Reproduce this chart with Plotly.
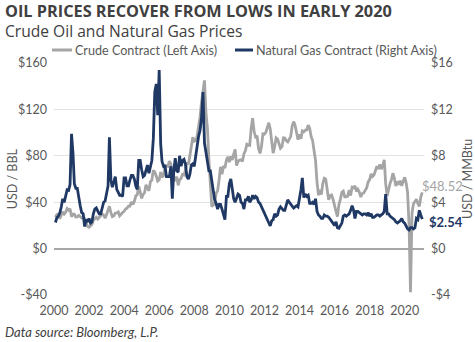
import pandas as pd
import plotly.graph_objects as go

# Month-end observations, Jan 2000 - Dec 2020
dates = pd.date_range("2000-01-31", "2020-12-31", freq="ME")

# WTI crude front-month contract, USD per barrel
crude = [
    27.2, 29.4, 29.9, 25.7, 28.8, 31.8, 29.7, 31.3, 34.5, 33.1, 34.4, 27.4,   # 2000
    29.6, 29.6, 27.2, 27.4, 28.6, 27.6, 26.4, 27.4, 26.2, 22.2, 19.0, 18.4,   # 2001
    19.7, 20.7, 24.5, 26.2, 27.0, 25.5, 26.9, 28.4, 29.7, 28.9, 26.3, 29.4,   # 2002
    33.5, 36.5, 31.0, 27.5, 28.1, 30.7, 30.8, 31.6, 28.3, 30.3, 31.1, 32.1,   # 2003
    34.3, 34.7, 36.7, 36.7, 40.3, 38.0, 40.7, 45.5, 46.5, 54.0, 48.5, 43.3,   # 2004
    46.8, 48.0, 55.0, 52.0, 49.8, 57.5, 59.0, 67.5, 66.0, 62.4, 58.3, 59.4,   # 2005
    66.0, 61.6, 62.9, 71.0, 71.5, 70.9, 75.5, 73.0, 63.8, 58.9, 59.1, 62.0,   # 2006
    54.5, 59.3, 60.4, 63.9, 63.5, 67.5, 74.1, 72.4, 79.9, 87.0, 96.0, 92.5,   # 2007
    93.0, 97.0, 105.5, 113.5, 126.5, 138.0, 145.0, 116.7, 104.1, 76.6, 55.0, 36.0,  # 2008
    38.5, 37.5, 47.9, 49.6, 59.0, 70.5, 64.2, 71.1, 69.4, 76.5, 79.0, 74.5,   # 2009
    79.5, 76.4, 81.2, 85.5, 71.5, 75.3, 76.3, 76.6, 75.2, 81.9, 84.3, 90.0,   # 2010
    89.2, 89.0, 104.0, 112.5, 100.9, 96.3, 97.3, 86.3, 82.0, 88.0, 99.0, 98.6,  # 2011
    100.3, 104.0, 108.5, 103.3, 94.7, 82.3, 87.9, 95.5, 94.5, 89.5, 86.5, 87.9,  # 2012
    95.5, 95.3, 92.9, 92.0, 94.5, 96.5, 105.5, 109.5, 106.3, 100.5, 93.9, 98.5,  # 2013
    94.6, 101.5, 100.8, 102.1, 102.2, 106.5, 103.6, 96.5, 93.2, 84.4, 75.8, 57.0,  # 2014
    46.0, 50.6, 46.5, 56.0, 60.5, 59.8, 50.9, 42.0, 45.5, 46.2, 42.4, 36.0,   # 2015
    32.0, 27.5, 38.0, 42.5, 48.5, 49.5, 44.7, 44.7, 45.2, 50.5, 45.7, 53.0,   # 2016
    52.5, 54.0, 49.3, 51.1, 48.5, 44.5, 47.5, 48.0, 50.5, 52.5, 57.5, 59.5,   # 2017
    64.5, 62.2, 63.5, 67.5, 71.0, 68.5, 72.5, 68.5, 71.5, 76.5, 56.0, 45.5,   # 2018
    52.0, 56.0, 59.5, 65.0, 60.5, 54.0, 58.0, 55.0, 58.5, 54.0, 58.0, 61.5,   # 2019
    56.5, 48.5, 20.5, -37.6, 30.5, 38.5, 40.7, 42.5, 39.0, 36.5, 44.5, 48.52, # 2020
]

# Henry Hub natural gas front-month contract, USD per MMBtu
gas = [
    2.25, 2.66, 2.79, 3.04, 3.59, 4.29, 3.99, 4.43, 5.06, 5.02, 5.52, 9.90,   # 2000
    8.20, 5.60, 5.20, 5.20, 4.20, 3.70, 3.10, 3.00, 1.90, 2.50, 2.30, 2.60,   # 2001
    2.20, 2.30, 3.00, 3.40, 3.50, 3.20, 3.00, 3.00, 3.60, 4.00, 4.10, 4.70,   # 2002
    5.40, 9.60, 5.90, 5.30, 5.90, 6.20, 5.10, 4.90, 4.60, 4.60, 4.50, 6.10,   # 2003
    6.10, 5.40, 5.40, 5.90, 6.30, 6.30, 6.00, 5.40, 5.10, 7.60, 7.60, 6.80,   # 2004
    6.20, 6.30, 6.90, 7.20, 6.50, 7.20, 7.60, 9.50, 13.50, 14.20, 11.50, 15.40,  # 2005
    9.00, 7.50, 7.10, 7.20, 6.20, 6.20, 6.20, 7.10, 4.30, 6.70, 7.80, 6.70,   # 2006
    6.60, 8.00, 7.10, 7.60, 7.70, 7.30, 6.20, 6.00, 6.40, 7.20, 7.30, 7.10,   # 2007
    8.00, 8.90, 9.70, 10.20, 11.30, 13.50, 9.10, 8.30, 7.40, 6.70, 6.70, 5.80,  # 2008
    4.60, 4.20, 3.90, 3.40, 3.80, 3.80, 3.40, 2.80, 2.50, 4.50, 4.50, 5.60,   # 2009
    6.00, 5.20, 4.30, 4.00, 4.30, 4.70, 4.60, 4.00, 3.90, 3.40, 4.20, 4.20,   # 2010
    4.50, 4.00, 4.20, 4.60, 4.30, 4.50, 4.40, 4.00, 3.90, 3.60, 3.30, 3.00,   # 2011
    2.70, 2.50, 2.20, 1.95, 2.40, 2.50, 3.00, 2.80, 2.90, 3.40, 3.60, 3.40,   # 2012
    3.30, 3.30, 3.80, 4.20, 4.00, 3.80, 3.60, 3.50, 3.60, 3.70, 3.60, 4.30,   # 2013
    5.10, 6.10, 4.40, 4.70, 4.50, 4.60, 3.90, 3.90, 4.00, 3.80, 4.30, 3.20,   # 2014
    2.90, 2.80, 2.60, 2.60, 2.90, 2.80, 2.80, 2.70, 2.50, 2.30, 2.20, 2.00,   # 2015
    2.30, 1.80, 1.75, 2.00, 2.20, 2.80, 2.90, 2.80, 2.90, 3.00, 3.30, 3.70,   # 2016
    3.30, 2.60, 3.20, 3.20, 3.10, 3.00, 2.90, 3.00, 3.00, 2.90, 3.10, 2.80,   # 2017
    3.00, 2.70, 2.70, 2.80, 2.90, 2.90, 2.80, 2.90, 3.00, 3.20, 4.70, 3.00,   # 2018
    3.00, 2.80, 2.70, 2.60, 2.50, 2.30, 2.20, 2.30, 2.40, 2.60, 2.30, 2.20,   # 2019
    1.90, 1.70, 1.60, 1.80, 1.80, 1.70, 1.80, 2.60, 2.50, 3.30, 2.90, 2.54,   # 2020
]

series_names = ["Crude Contract (Left Axis)", "Natural Gas Contract (Right Axis)"]
year_ticks = [f"{y}-01-01" for y in range(2000, 2021, 2)]
year_labels = [str(y) for y in range(2000, 2021, 2)]
left_ticks = [-40, 0, 40, 80, 120, 160]
left_labels = ["-$40", "$0", "$40", "$80", "$120", "$160"]
right_ticks = [-4, 0, 4, 8, 12, 16]
right_labels = ["-$4", "$0", "$4", "$8", "$12", "$16"]

GREY = "#a5a5a5"
NAVY = "#1f3864"
TXT = "#595959"
DARK = "#404040"
FONT = "Lato"
WIDE = "Open Sans"

fig = go.Figure()
fig.add_trace(go.Scatter(
    x=dates, y=crude, name=series_names[0], mode="lines",
    line=dict(color=GREY, width=2.8), yaxis="y", showlegend=False,
))
fig.add_trace(go.Scatter(
    x=dates, y=gas, name=series_names[1], mode="lines",
    line=dict(color=NAVY, width=2.8), yaxis="y2", showlegend=False,
))

# key above the plot: short line sample followed by the series name
key_y = 1.056
for (x0, x1), name, color in zip([(-0.0054, 0.0486), (0.4892, 0.5378)],
                                 series_names, [GREY, NAVY]):
    fig.add_shape(type="line", xref="paper", yref="paper",
                  x0=x0, x1=x1, y0=key_y, y1=key_y,
                  line=dict(color=color, width=3))
    fig.add_annotation(x=x1 + 0.002, xref="paper", y=key_y, yref="paper",
                       text=name, showarrow=False, xanchor="left", yanchor="middle",
                       font=dict(family=FONT, size=12.6, color=TXT))

# closing values beside the end of each line
fig.add_annotation(x=0.988, xref="paper", y=crude[-1], yref="y", yshift=6,
                   text=f"${crude[-1]:.2f}", showarrow=False, xanchor="left",
                   font=dict(family=FONT, size=13, color=GREY))
fig.add_annotation(x=1.008, xref="paper", y=gas[-1], yref="y2", yshift=-3,
                   text=f"<b>${gas[-1]:.2f}</b>", showarrow=False, xanchor="left",
                   font=dict(family=FONT, size=13, color=NAVY))

# axis titles, rotated to read bottom-to-top
fig.add_annotation(x=-0.113, xref="paper", y=0.5, yref="paper", textangle=-90,
                   text="USD / BBL", showarrow=False,
                   xanchor="center", yanchor="middle",
                   font=dict(family=FONT, size=12.5, color=TXT))
fig.add_annotation(x=1.116, xref="paper", y=0.5, yref="paper", textangle=-90,
                   text="USD / MMBtu", showarrow=False,
                   xanchor="center", yanchor="middle",
                   font=dict(family=FONT, size=12.5, color=TXT))

# headline, subtitle and source note
fig.add_annotation(x=-0.138, xref="paper", y=1.224, yref="paper",
                   text="<b>OIL PRICES RECOVER FROM LOWS IN EARLY 2020</b>",
                   showarrow=False, xanchor="left", yanchor="middle",
                   font=dict(family=WIDE, size=16.3, color=DARK))
fig.add_annotation(x=-0.138, xref="paper", y=1.14, yref="paper",
                   text="Crude Oil and Natural Gas Prices",
                   showarrow=False, xanchor="left", yanchor="middle",
                   font=dict(family=WIDE, size=15.6, color=DARK))
fig.add_annotation(x=-0.138, xref="paper", y=-0.16, yref="paper",
                   text="<i>Data source: Bloomberg, L.P.</i>",
                   showarrow=False, xanchor="left", yanchor="middle",
                   font=dict(family=FONT, size=13, color=DARK))

fig.update_layout(
    width=475, height=342,
    margin=dict(l=54, r=51, t=63, b=47),
    paper_bgcolor="white", plot_bgcolor="white",
    font=dict(family=FONT, size=12, color=TXT),
    showlegend=False,
    xaxis=dict(type="date", range=["2000-01-01", "2021-02-05"],
               tickvals=year_ticks, ticktext=year_labels,
               showgrid=False, zeroline=False, showline=False, ticks="",
               ticklabelstandoff=6,
               tickfont=dict(family=FONT, size=12.5, color=TXT)),
    yaxis=dict(range=[-40, 160], tickvals=left_ticks, ticktext=left_labels,
               showgrid=True, gridcolor="#e3e3e3", gridwidth=1,
               zeroline=True, zerolinecolor="#a6a6a6", zerolinewidth=1.6,
               ticks="", ticklabelstandoff=6,
               tickfont=dict(family=FONT, size=12.5, color=TXT)),
    yaxis2=dict(range=[-4, 16], tickvals=right_ticks, ticktext=right_labels,
                overlaying="y", side="right", showgrid=False, zeroline=False,
                ticks="", ticklabelstandoff=6,
                tickfont=dict(family=FONT, size=12.5, color=TXT)),
)

fig.write_html("out.html")
